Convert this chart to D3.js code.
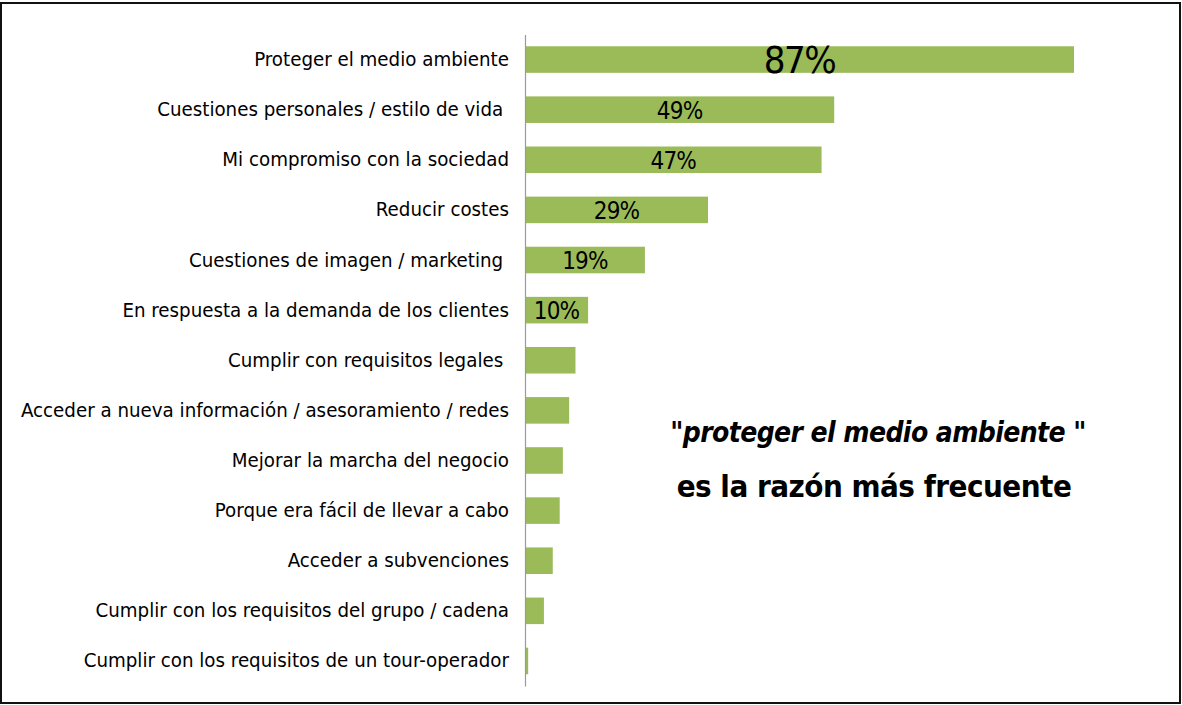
<!DOCTYPE html>
<html>
<head>
<meta charset="utf-8">
<script src="https://cdn.jsdelivr.net/npm/d3@7"></script>
<style>
  html, body { margin: 0; padding: 0; background: #fff; }
  svg { display: block; }
  .lbl { white-space: pre; }
</style>
</head>
<body>
<svg id="chart" width="1182" height="705"></svg>
<script>
//

const categories = [
  'Proteger el medio ambiente',
  'Cuestiones personales / estilo de vida ',
  'Mi compromiso con la sociedad',
  'Reducir costes',
  'Cuestiones de imagen / marketing ',
  'En respuesta a la demanda de los clientes',
  'Cumplir con requisitos legales ',
  'Acceder a nueva información / asesoramiento / redes',
  'Mejorar la marcha del negocio',
  'Porque era fácil de llevar a cabo',
  'Acceder a subvenciones',
  'Cumplir con los requisitos del grupo / cadena',
  'Cumplir con los requisitos de un tour-operador'
]

const values = [87, 49, 47, 29, 19, 10, 8, 7, 6, 5.5, 4.4, 3, 0.5]

// only the first six bars carry a label
const valueLabels = ['87%', '49%', '47%', '29%', '19%', '10%', '', '', '', '', '', '', '']

const noteLine1 = ['"', 'proteger el medio ambiente', ' "']
const noteLine2 = 'es la razón más frecuente'

//

const svg = d3.select('#chart')
const font = '"DejaVu Sans Condensed", "Liberation Sans Narrow", sans-serif'

// frame
svg.append('rect')
  .attr('x', 1).attr('y', 3)
  .attr('width', 1179).attr('height', 700)
  .attr('fill', 'none')
  .attr('stroke', '#111')
  .attr('stroke-width', 2)

const x = d3.scaleLinear().domain([0, 87]).range([525, 1074])
const y = d3.scaleBand().domain(categories).range([34.5, 686]).paddingInner(0.47).paddingOuter(0.235)

// bars
svg.append('g').selectAll('rect')
  .data(categories)
  .join('rect')
  .attr('x', x(0))
  .attr('y', d => y(d))
  .attr('width', (d, i) => x(values[i]) - x(0))
  .attr('height', y.bandwidth())
  .attr('fill', '#9BBB59')

// axis
const yAxis = d3.axisLeft(y).tickSize(0).tickPadding(16)
const ag = svg.append('g')
  .attr('transform', 'translate(' + x(0) + ',0)')
  .call(yAxis)
ag.select('.domain').attr('stroke', '#9a9a9a').attr('stroke-width', 1.2)
ag.selectAll('text')
  .attr('class', 'lbl')
  .attr('font-family', font)
  .attr('font-size', 20.3)
  .attr('fill', '#000')

// value labels
svg.append('g').selectAll('text')
  .data(categories)
  .join('text')
  .attr('x', (d, i) => (x(0) + x(values[i])) / 2)
  .attr('y', d => y(d) + y.bandwidth() / 2)
  .attr('dy', (d, i) => i === 0 ? '0.36em' : '0.38em')
  .attr('text-anchor', 'middle')
  .attr('font-family', font)
  .attr('font-size', (d, i) => i === 0 ? 38 : 24)
  .attr('letter-spacing', (d, i) => i === 0 ? -1.5 : -0.8)
  .attr('fill', '#000')
  .text((d, i) => valueLabels[i])

// note
const t1 = svg.append('text')
  .attr('x', 878).attr('y', 442)
  .attr('text-anchor', 'middle')
  .attr('font-family', font)
  .attr('font-size', 28)
  .attr('font-weight', 'bold')
  .attr('letter-spacing', -0.6)
  .attr('class', 'lbl')
t1.selectAll('tspan')
  .data(noteLine1)
  .join('tspan')
  .attr('font-style', (d, i) => i === 1 ? 'italic' : 'normal')
  .text(d => d)

svg.append('text')
  .attr('x', 874).attr('y', 497)
  .attr('text-anchor', 'middle')
  .attr('font-family', font)
  .attr('font-size', 31)
  .attr('font-weight', 'bold')
  .attr('letter-spacing', -0.5)
  .text(noteLine2)
</script>
</body>
</html>
